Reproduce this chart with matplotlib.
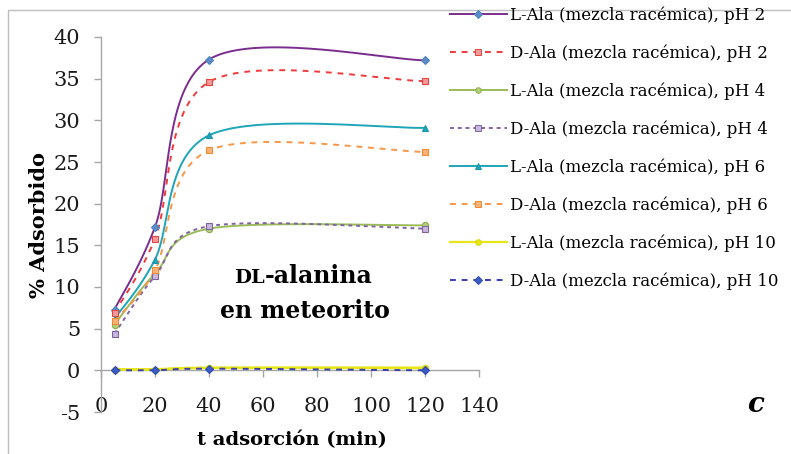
import numpy as np
import matplotlib
matplotlib.use("Agg")
import matplotlib.pyplot as plt
from matplotlib.patches import Rectangle

# ---- data ----
t_min = [5, 20, 40, 120]
l_ph2 = [7.3, 17.2, 37.3, 37.2]
d_ph2 = [6.9, 15.8, 34.6, 34.7]
l_ph4 = [5.5, 11.6, 17.0, 17.4]
d_ph4 = [4.4, 11.3, 17.3, 17.0]
l_ph6 = [6.2, 13.3, 28.2, 29.1]
d_ph6 = [5.9, 12.0, 26.4, 26.2]
l_ph10 = [0.1, 0.1, 0.3, 0.3]
d_ph10 = [0.0, 0.0, 0.2, 0.0]

labels = [
    "L-Ala (mezcla racémica), pH 2",
    "D-Ala (mezcla racémica), pH 2",
    "L-Ala (mezcla racémica), pH 4",
    "D-Ala (mezcla racémica), pH 4",
    "L-Ala (mezcla racémica), pH 6",
    "D-Ala (mezcla racémica), pH 6",
    "L-Ala (mezcla racémica), pH 10",
    "D-Ala (mezcla racémica), pH 10",
]
series = [l_ph2, d_ph2, l_ph4, d_ph4, l_ph6, d_ph6, l_ph10, d_ph10]
xticks = [0, 20, 40, 60, 80, 100, 120, 140]
yticks = [-5, 0, 5, 10, 15, 20, 25, 30, 35, 40]

# styles: line colour, linestyle, marker, marker face, marker edge, marker size
styles = [
    ("#7B2D8E", "-", "D", "#5B8CC8", "#4F81BD", 4.5),
    ("#EE3B3B", (0, (3, 3)), "s", "#F59A9A", "#E8443F", 5),
    ("#9BBB59", "-", "o", "#B5CF80", "#8AAE48", 4.5),
    ("#8064A2", (0, (2, 2)), "s", "#C9B8DD", "#8064A2", 5),
    ("#1FA5B8", "-", "^", "#1FA5B8", "#1A96A8", 5),
    ("#F79646", (0, (3, 3)), "s", "#F9B27A", "#F08A30", 5),
    ("#E6E619", "-", "o", "#E6E619", "#D8D800", 4.5),
    ("#3B3FA8", (0, (3, 3)), "D", "#3B5CC8", "#2E4BB0", 4.5),
]


def smooth(xs, ys, n=60):
    """Excel-style smoothed line (Catmull-Rom Bezier through the data)."""
    P = np.column_stack([xs, ys]).astype(float)
    out = []
    m = len(P)
    for i in range(m - 1):
        p0 = P[i - 1] if i > 0 else P[i]
        p1 = P[i]
        p2 = P[i + 1]
        p3 = P[i + 2] if i + 2 < m else P[i + 1]
        c1 = p1 + (p2 - p0) / 6.0
        c2 = p2 - (p3 - p1) / 6.0
        t = np.linspace(0, 1, n)[:, None]
        b = ((1 - t) ** 3) * p1 + 3 * ((1 - t) ** 2) * t * c1 + 3 * (1 - t) * t ** 2 * c2 + t ** 3 * p2
        out.append(b if i == 0 else b[1:])
    out = np.vstack(out)
    return out[:, 0], out[:, 1]


W, H = 791, 454
fig = plt.figure(figsize=(W / 100, H / 100), dpi=100)
serif = "DejaVu Serif"
plt.rcParams["font.family"] = [serif]

ax = fig.add_axes([101 / W, 1 - 412 / H, (479 - 101) / W, (412 - 37) / H])

handles = []
for ys, lab, (lc, ls, mk, mfc, mec, ms) in zip(series, labels, styles):
    sx, sy = smooth(t_min, ys)
    lw = 2.0 if lc == "#E6E619" else 1.4
    ax.plot(sx, sy, color=lc, linestyle=ls, linewidth=lw, zorder=3)
    ax.plot(t_min, ys, linestyle="none", marker=mk, markersize=ms,
            markerfacecolor=mfc, markeredgecolor=mec, markeredgewidth=0.8, zorder=4)
    h, = ax.plot([], [], color=lc, linestyle=ls, linewidth=lw if lw < 2 else 1.6,
                 marker=mk, markersize=4, markerfacecolor=mfc,
                 markeredgecolor=mec, markeredgewidth=0.7)
    handles.append(h)

ax.set_xlim(0, 140)
ax.set_ylim(-5, 40)
ax.set_xticks(xticks)
ax.set_yticks(yticks)
ax.set_xticklabels([str(v) for v in xticks])
ax.set_yticklabels([str(v) for v in yticks])

for s in ["top", "right"]:
    ax.spines[s].set_visible(False)
ax.spines["bottom"].set_position(("data", 0))
for s in ["left", "bottom"]:
    ax.spines[s].set_color("#A6A6A6")
    ax.spines[s].set_linewidth(1.0)
ax.tick_params(axis="both", direction="out", color="#A6A6A6", length=5, width=1.0,
               labelsize=15, labelcolor="#1a1a1a")
ax.tick_params(axis="y", pad=10)
ax.tick_params(axis="x", pad=14)

ax.set_xlabel("t adsorción (min)", fontsize=14, fontweight="bold", labelpad=0)
ax.xaxis.set_label_coords(0.505, -0.05)
ax.set_ylabel("% Adsorbido", fontsize=15, fontweight="bold")
ax.yaxis.set_label_coords(-0.137, 0.5)

# annotation text
ax.text(0.432, 0.344, "-alanina", transform=ax.transAxes, fontsize=17, fontweight="bold",
        ha="left", va="baseline", family=serif)
ax.text(0.432, 0.344, "DL", transform=ax.transAxes, fontsize=14, fontweight="bold",
        ha="right", va="baseline", family=serif)
ax.text(0.54, 0.25, "en meteorito", transform=ax.transAxes, fontsize=17, fontweight="bold",
        ha="center", va="baseline", family=serif)

fig.text(755 / W, 1 - 404 / H, "c", fontsize=20, fontweight="bold", style="italic",
         ha="center", va="center", family=serif)

leg = fig.legend(handles=handles, labels=labels, loc="upper left",
                 bbox_to_anchor=(450 / W, 1 - 6 / H), frameon=False, fontsize=12,
                 handlelength=3.4, handletextpad=0.18, labelspacing=1.23,
                 borderaxespad=0, borderpad=0)

# chart frame
fig.patches.append(Rectangle((8 / W, -0.05), 1.1, 1 - 10 / H + 0.05, transform=fig.transFigure,
                             fill=False, edgecolor="#BFBFBF", linewidth=1.0))

fig.savefig("out.png", dpi=100)
